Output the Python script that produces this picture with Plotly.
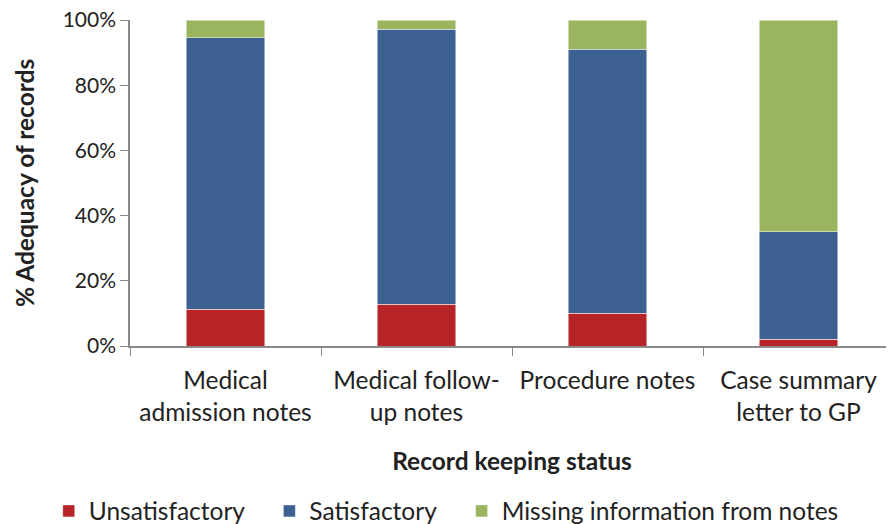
import plotly.graph_objects as go

categories = ["Medical<br>admission notes", "Medical follow-<br>up notes", "Procedure notes", "Case summary<br>letter to GP"]
unsatisfactory = [0.113, 0.128, 0.100, 0.020]
satisfactory = [0.833, 0.844, 0.811, 0.330]
missing = [0.054, 0.028, 0.089, 0.650]
series_names = ["Unsatisfactory", "Satisfactory", "Missing information from notes"]
colors = ["#B72428", "#3C6090", "#9BB55F"]
legend_ids = ["legend", "legend2", "legend3"]
legend_x = [0.046, 0.295, 0.512]

fig = go.Figure()
for name, vals, col, lg in zip(series_names, [unsatisfactory, satisfactory, missing], colors, legend_ids):
    fig.add_trace(go.Bar(x=categories, y=vals, name=name, legend=lg,
                         marker=dict(color=col, line=dict(color="rgba(255,255,255,0.6)", width=0.8))))

# The page body has an 8px margin, so the figure is sized to fit the window.
font_family = "Lato, 'Open Sans', sans-serif"
legend_common = dict(orientation="h", xanchor="left", xref="container",
                     y=-0.506, yanchor="middle", yref="paper",
                     font=dict(size=24.5), itemwidth=30, bgcolor="rgba(0,0,0,0)")
fig.update_layout(
    barmode="stack",
    bargap=0.59,
    width=886, height=516,
    margin=dict(l=122, r=0, t=12, b=178, autoexpand=False),
    plot_bgcolor="white", paper_bgcolor="white",
    font=dict(family=font_family, size=24, color="#222222"),
    showlegend=True,
    legend=dict(x=legend_x[0], **legend_common),
    legend2=dict(x=legend_x[1], **legend_common),
    legend3=dict(x=legend_x[2], **legend_common),
    annotations=[dict(text="<b>% Adequacy of records</b>", xref="paper", yref="paper",
                      x=-0.1387, y=0.5, xanchor="center", yanchor="middle",
                      textangle=-90, showarrow=False, font=dict(size=24.5, color="#222222"))],
)
fig.update_yaxes(range=[0, 1], dtick=0.2, tickformat=".0%", ticks="outside", ticklen=8,
                 tickcolor="#898989", showline=True, linecolor="#898989", linewidth=1.5,
                 showgrid=False, zeroline=False, automargin=False, ticklabeloverflow="allow",
                 tickfont=dict(size=21))
fig.update_xaxes(ticks="outside", tickson="boundaries", ticklen=8, tickcolor="#898989",
                 showline=True, linecolor="#898989", linewidth=1.5, showgrid=False,
                 automargin=False, tickfont=dict(size=24.5), ticklabelstandoff=12,
                 title=dict(text="<b>Record keeping status</b>", font=dict(size=24.5), standoff=28))

fig.write_html("out.html")
